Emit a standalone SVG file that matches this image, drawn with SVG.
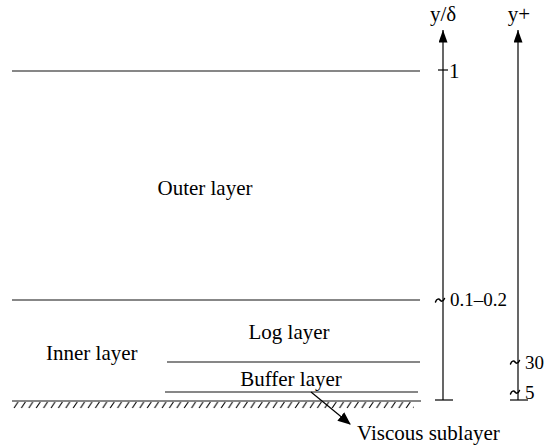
<svg xmlns="http://www.w3.org/2000/svg" width="544" height="447" viewBox="0 0 544 447">
  <style>
    .t { font-family: "Liberation Serif", "Times New Roman", serif; font-size: 21px; fill: #000; }
    .num { font-size: 19px; }
    .ln { stroke: #111; stroke-width: 1.2; fill: none; }
    .ax { stroke: #000; stroke-width: 1.2; fill: none; }
    .sq { stroke: #000; stroke-width: 1.5; fill: none; stroke-linecap: round; }
    .hatch { stroke: #000; stroke-width: 1.1; }
  </style>
  <defs>
    <marker id="ahead" viewBox="0 0 12 10" refX="11" refY="5" markerWidth="13" markerHeight="11" markerUnits="userSpaceOnUse" orient="auto">
      <path d="M0,0 L12,5 L0,10 Z" fill="#000"/>
    </marker>
    <marker id="axhead" viewBox="0 0 10 14" refX="5" refY="0" markerWidth="9" markerHeight="13" markerUnits="userSpaceOnUse" orient="0">
      <path d="M5,0 L10,14 L0,14 Z" fill="#000"/>
    </marker>
    <pattern id="hatchpat" x="13" y="401" width="7.4" height="8" patternUnits="userSpaceOnUse">
      <line x1="1" y1="7" x2="5" y2="1" class="hatch"/>
    </pattern>
  </defs>

  <!-- layer boundaries -->
  <g id="boundaries">
    <line class="ln" x1="12" y1="71" x2="420" y2="71"/>
    <line class="ln" x1="12" y1="300" x2="420" y2="300"/>
    <line class="ln" x1="167" y1="362" x2="420" y2="362"/>
    <line class="ln" x1="165" y1="392" x2="418" y2="392"/>
  </g>

  <!-- wall with hatching -->
  <g id="wall">
    <line class="ln" x1="12" y1="401" x2="421" y2="401"/>
    <rect x="13" y="401" width="401" height="8" fill="url(#hatchpat)"/>
  </g>

  <!-- layer labels -->
  <g id="outer-layer"><text class="t" x="205" y="195" text-anchor="middle">Outer layer</text></g>
  <g id="inner-layer"><text class="t" x="46" y="360">Inner layer</text></g>
  <g id="log-layer"><text class="t" x="289" y="339" text-anchor="middle">Log layer</text></g>
  <g id="buffer-layer"><text class="t" x="291" y="386" text-anchor="middle">Buffer layer</text></g>
  <g id="viscous-sublayer"><text class="t" x="357" y="440">Viscous sublayer</text></g>

  <!-- y/delta axis -->
  <g id="axis-outer">
    <line class="ax" x1="443" y1="400" x2="443" y2="30" marker-end="url(#axhead)"/>
    <line class="ax" x1="435" y1="400" x2="453" y2="400"/>
    <line class="ax" x1="438" y1="70" x2="448" y2="70"/>
    <path class="sq" d="M435.5,302 c1.2,-3.5 3.5,-3.5 4.5,-2 s3,2 4.5,-1.5"/>
    <text class="t" x="443" y="21" text-anchor="middle">y/δ</text>
    <text class="t" x="449" y="78">1</text>
    <text class="t num" x="450" y="306">0.1–0.2</text>
  </g>

  <!-- y+ axis -->
  <g id="axis-plus">
    <line class="ax" x1="518" y1="400" x2="518" y2="30" marker-end="url(#axhead)"/>
    <line class="ax" x1="510" y1="400" x2="528" y2="400"/>
    <path class="sq" d="M510.5,364 c1.2,-3.5 3.5,-3.5 4.5,-2 s3,2 4.5,-1.5"/>
    <path class="sq" d="M510.5,394 c1.2,-3.5 3.5,-3.5 4.5,-2 s3,2 4.5,-1.5"/>
    <text class="t" x="519" y="21" text-anchor="middle">y+</text>
    <text class="t num" x="525" y="369">30</text>
    <text class="t num" x="525" y="399">5</text>
  </g>

  <!-- connectors -->
  <g id="connectors">
    <line class="ax" x1="311" y1="392" x2="350" y2="424" marker-end="url(#ahead)"/>
  </g>
</svg>
